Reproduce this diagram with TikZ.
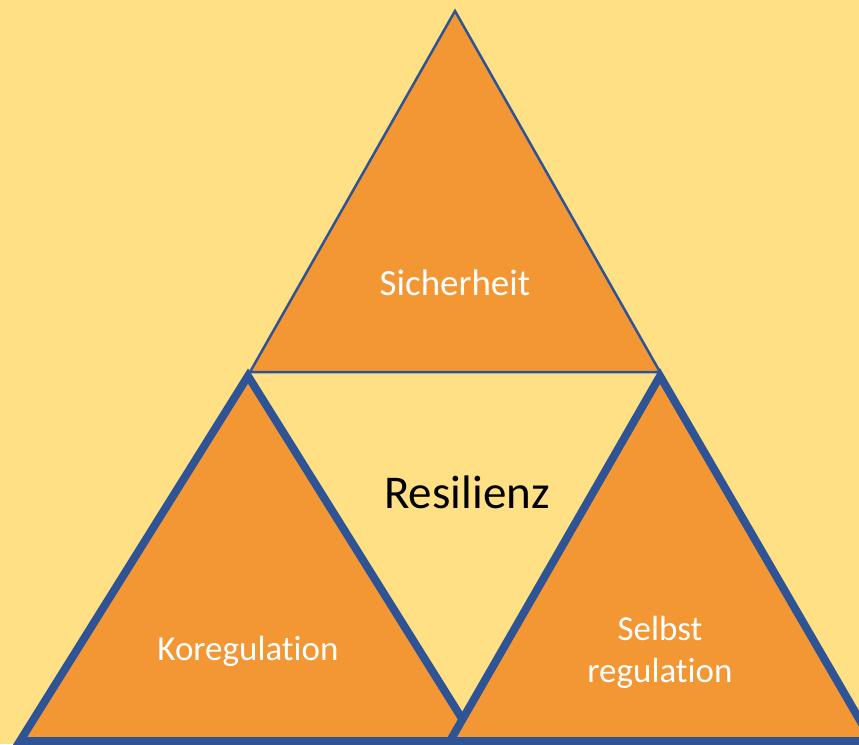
\documentclass[tikz,border=0pt]{standalone}
\usepackage{fontspec}
\setmainfont{Carlito}[Ligatures=NoCommon]
\definecolor{bgyellow}{HTML}{FFE085}
\definecolor{triorange}{HTML}{F39634}
\definecolor{edgeblue}{HTML}{2F5496}
\begin{document}
\begin{tikzpicture}[x=1pt, y=-1pt,
	thin tri/.style={fill=triorange, draw=edgeblue, line width=2.5pt},
	thick tri/.style={fill=triorange, draw=edgeblue, line width=8pt},
	white label/.style={text=white, align=center, font=\fontsize{35}{42}\selectfont}]

	\def\W{859}
	\def\H{744}

	% background
	\fill[bgyellow] (0,0) rectangle (\W,\H);
	\useasboundingbox (0,0) rectangle (\W,\H);
	\clip (0,0) rectangle (\W,\H);

	% corners of the triangles
	\coordinate (T1) at (455,11);
	\coordinate (T2) at (250,372);
	\coordinate (T3) at (660,372);
	\coordinate (L1) at (248,376);
	\coordinate (L2) at (20,741);
	\coordinate (L3) at (476,741);
	\coordinate (R1) at (660,376);
	\coordinate (R2) at (450,741);
	\coordinate (R3) at (872,741);

	% triangles
	\draw[thin tri] (T1) -- (T2) -- (T3) -- cycle;
	\draw[thick tri] (L1) -- (L2) -- (L3) -- cycle;
	\draw[thick tri] (R1) -- (R2) -- (R3) -- cycle;

	% labels
	\node[white label, font=\fontsize{37}{42}\selectfont] (sicher) at (455,283) {Sicherheit};
	\node[font=\fontsize{47}{56}\selectfont] (resil) at (467,492) {Resilienz};
	\node[white label] (koreg) at (248,651) {Koregulation};
	\node[white label] (selbst) at (660,652) {Selbst\\regulation};

\end{tikzpicture}
\end{document}
